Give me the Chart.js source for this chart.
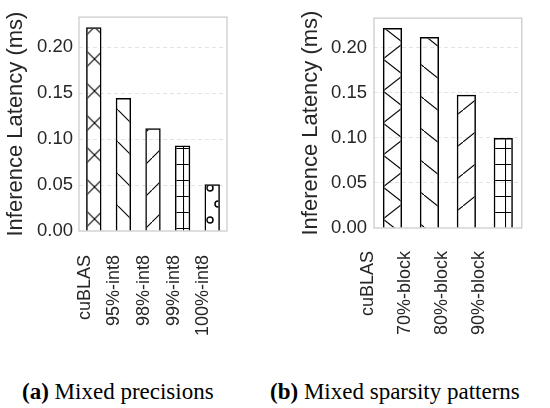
<!DOCTYPE html>
<html>
<head>
<meta charset="utf-8">
<script src="https://cdn.jsdelivr.net/npm/chart.js@4.4.0/dist/chart.umd.min.js"></script>
<style>
  body { margin: 0; background: #fff; width: 550px; height: 408px; overflow: hidden; position: relative; }
  .panel { position: absolute; top: 0; }
  #wrap-a { left: 0; }
  #wrap-b { left: 295px; }
  .cap { position: absolute; top: 380px; font-family: 'Liberation Serif', serif; font-size: 23px; line-height: 23px; color: #000; white-space: nowrap; }
</style>
</head>
<body>
<div class="panel" id="wrap-a"><canvas id="chart-a" width="260" height="340"></canvas></div>
<div class="panel" id="wrap-b"><canvas id="chart-b" width="255" height="340"></canvas></div>
<div class="cap" style="left:22px"><b>(a)</b> Mixed precisions</div>
<div class="cap" style="left:270px"><b>(b)</b> Mixed sparsity patterns</div>
<script>
// data
const precLabels   = ['cuBLAS', '95%-int8', '98%-int8', '99%-int8', '100%-int8'];
const precLatency  = [0.222, 0.145, 0.112, 0.093, 0.051];
const sparseLabels  = ['cuBLAS', '70%-block', '80%-block', '90%-block'];
const sparseLatency = [0.222, 0.212, 0.148, 0.100];
const yTicks = [0, 0.05, 0.10, 0.15, 0.20];
const yMax = 0.233;

const SANS = "'Liberation Sans', Arial, sans-serif";
const INK = '#262626';

// hatch tiles, like matplotlib's 'x', '\\', '/', '+', 'o'
function hatch(kind, w, h, ox, oy) {
  const c = document.createElement('canvas');
  c.width = w; c.height = h;
  const g = c.getContext('2d');
  g.strokeStyle = '#000';
  g.lineWidth = 1.1;
  g.beginPath();
  if (kind === 'x' || kind === '\\') { g.moveTo(-w, -h); g.lineTo(2 * w, 2 * h); }
  if (kind === 'x' || kind === '/')  { g.moveTo(-w, 2 * h); g.lineTo(2 * w, -h); }
  if (kind === '+') { g.moveTo(0.5, 0); g.lineTo(0.5, h); g.moveTo(0, 0.5); g.lineTo(w, 0.5); }
  g.stroke();
  if (kind === 'o') {
    g.lineWidth = 1.5;
    [[2, 28], [10, 12]].forEach(([px, py]) => {
      [-w, 0, w].forEach(dx => [-h, 0, h].forEach(dy => {
        g.beginPath();
        g.arc(px + dx, py + dy, 3, 0, Math.PI * 2);
        g.stroke();
      }));
    });
  }
  const p = g.createPattern(c, 'repeat');
  p.setTransform(new DOMMatrix([1, 0, 0, 1, ox, oy]));
  return p;
}

const frame = {
  id: 'frame',
  beforeDatasetsDraw(chart) {
    const a = chart.chartArea, c = chart.ctx;
    c.save();
    c.strokeStyle = '#cccccc';
    c.lineWidth = 1.3;
    c.strokeRect(a.left, a.top, a.right - a.left, a.bottom - a.top);
    c.restore();
  }
};

function makeChart(id, labels, values, pats, cfg) {
  return new Chart(document.getElementById(id), {
    type: 'bar',
    data: {
      labels,
      datasets: [{
        data: values,
        backgroundColor: pats,
        borderColor: '#000',
        borderWidth: 1.5,
        barPercentage: 0.52,
        categoryPercentage: 1
      }]
    },
    options: {
      responsive: false,
      animation: false,
      devicePixelRatio: 1,
      layout: { padding: { top: 9, right: cfg.padRight, left: 0, bottom: 0 } },
      plugins: { legend: { display: false }, tooltip: { enabled: false } },
      scales: {
        x: {
          grid: { display: false, drawTicks: false },
          border: { display: false },
          ticks: {
            color: INK, font: { family: SANS, size: 18 },
            minRotation: 90, maxRotation: 90, autoSkip: false,
            padding: cfg.xPad, labelOffset: cfg.labelOffset
          },
          afterFit: s => { s.height = cfg.xHeight; }
        },
        y: {
          min: 0, max: yMax,
          afterBuildTicks: s => { s.ticks = yTicks.map(v => ({ value: v })); },
          afterFit: s => { s.width = 79; },
          grid: {
            color: c => (c.tick && c.tick.value === 0) ? 'rgba(0,0,0,0)' : '#e4e4e4',
            lineWidth: 1, drawTicks: false
          },
          border: { display: false, dash: [4, 3] },
          ticks: {
            color: INK, font: { family: SANS, size: 18.5 },
            padding: cfg.yPad, callback: v => v.toFixed(2)
          },
          title: {
            display: true, text: 'Inference Latency (ms)', color: INK,
            font: { family: SANS, size: 22 }, padding: { top: 3, bottom: 0 }
          }
        }
      }
    },
    plugins: [frame]
  });
}

makeChart('chart-a', precLabels, precLatency, [
  hatch('x', 32, 32, 14.5, 11),
  hatch('\\', 32, 32, 22, 14),
  hatch('/', 32, 32, 24, 30),
  hatch('+', 11, 16, 7, 4),
  hatch('o', 16, 32, 0, 0)
], { padRight: 22, xHeight: 109, xPad: 24, yPad: 6, labelOffset: -9 });

makeChart('chart-b', sparseLabels, sparseLatency, [
  hatch('x', 41, 32, 6, 27),
  hatch('\\', 40, 32, 9, 3),
  hatch('/', 40, 32, 8, 14),
  hatch('+', 16, 16, 2, 4)
], { padRight: 17, xHeight: 112, xPad: 23, yPad: 7, labelOffset: -24 });
</script>
</body>
</html>
